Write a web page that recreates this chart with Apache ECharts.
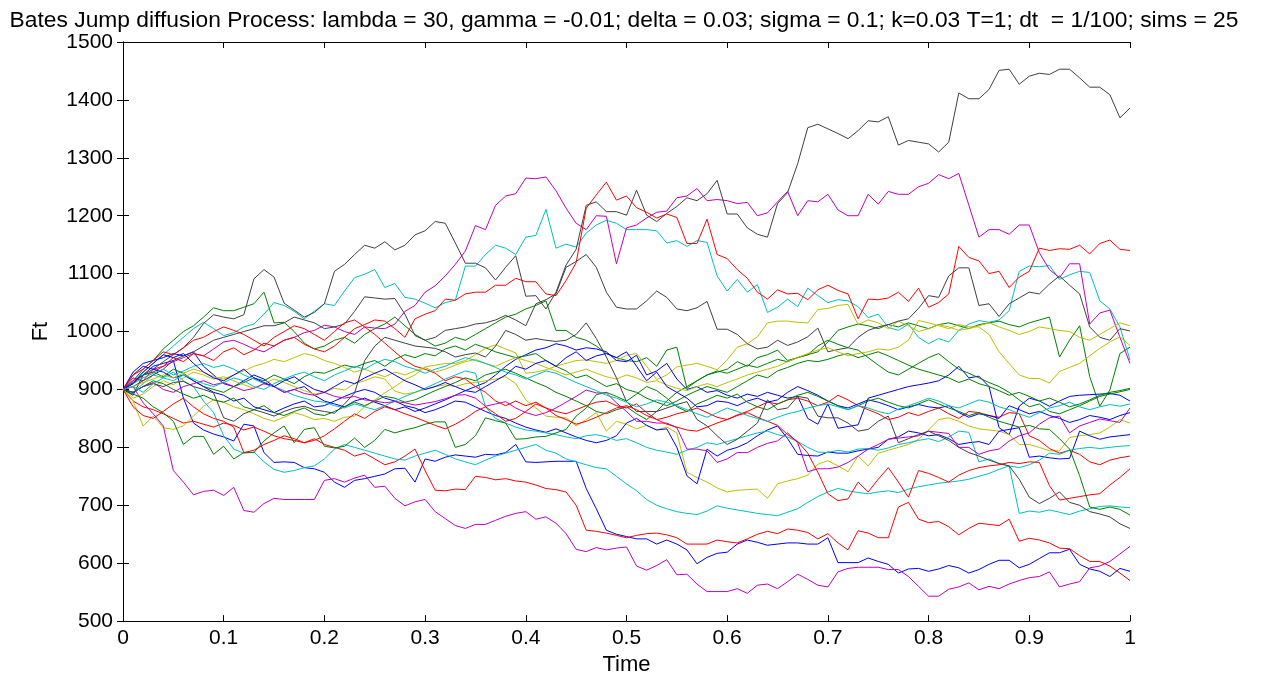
<!DOCTYPE html>
<html>
<head>
<meta charset="utf-8">
<title>Bates Jump diffusion Process</title>
<script src="https://cdn.jsdelivr.net/npm/echarts@6/dist/echarts.min.js"></script>
<style>
  html, body { margin: 0; padding: 0; background: #fff; overflow: hidden; }
  #chart { width: 1261px; height: 681px; }
</style>
</head>
<body>
<div id="chart"></div>
<script>
// Simulated Bates jump-diffusion price paths, one value per time step (dt = 1/100, T = 1).
const dt = 0.01;
const xTicks = [0, 0.1, 0.2, 0.3, 0.4, 0.5, 0.6, 0.7, 0.8, 0.9, 1];
const yTicks = [500, 600, 700, 800, 900, 1000, 1100, 1200, 1300, 1400, 1500];

const path01 = [900,890,925,940,945,950,885,842,830,823, 818,811,840,837,791,774,775,774,765,763, 757,740,731,743,746,750,754,763,764,740, 780,776,783,787,785,783,788,787,791,805, 775,774,775,776,776,776,729,694,657,650, 646,642,642,633,640,633,623,599,610,617, 619,633,640,636,631,633,635,635,633,633, 644,601,601,601,609,603,598,583,590,591, 586,590,596,592,583,589,598,605,605,592, 598,608,618,618,624,598,590,586,577,591,586];
const path02 = [900,915,935,950,970,985,1000,1010,1025,1041, 1036,1036,1042,1048,1068,1015,1016,1000,980,970, 975,985,990,980,995,1005,1013,1025,1010,995, 985,975,980,990,985,995,1005,1015,1025,1030, 1039,1045,1053,1002,1002,990,985,975,962,955, 950,948,955,940,968,973,902,915,925,930, 935,948,940,955,960,968,950,955,960,965, 982,1002,1008,1013,1010,1005,1012,1008,1015,1010, 1005,1012,1015,1010,1005,1012,1015,1018,1012,1008, 1015,1020,1025,956,985,1010,922,871,899,962,973];
const path03 = [900,880,870,865,858,850,842,845,840,835, 842,838,830,835,828,820,815,812,808,815, 805,800,795,785,790,780,770,775,785,797, 760,726,725,728,727,750,748,744,746,742, 740,735,729,727,723,700,657,655,652,648, 644,648,651,652,649,644,633,633,633,640, 637,635,642,650,655,651,659,657,653,642, 651,635,623,656,652,644,644,697,705,676, 670,672,663,649,660,669,667,665,676,638, 643,640,635,626,625,613,603,603,595,583,570];
const path04 = [900,915,930,945,960,975,990,1005,1016,1005, 993,998,1008,1013,1030,1050,1045,1035,1022,1035, 1048,1045,1070,1093,1099,1107,1076,1083,1059,1056, 1049,1041,1050,1054,1113,1113,1133,1149,1144,1133, 1163,1166,1211,1144,1151,1146,1170,1184,1192,1187, 1176,1176,1176,1174,1153,1157,1147,1157,1154,1096, 1070,1090,1068,1081,1033,1042,1056,1043,1075,1062, 1050,1055,1053,1043,1024,1030,1007,1002,1013,990, 979,988,982,1002,1013,1019,1016,1020,1036,1104, 1113,1112,1114,1090,1098,1104,1102,1053,1039,1008,951];
const path05 = [900,915,925,930,940,948,955,962,958,970, 982,985,978,970,965,975,985,990,998,1002, 1011,1008,1000,995,1008,1006,1005,1013,1035,1045, 1068,1079,1096,1116,1139,1183,1176,1218,1234,1238, 1265,1264,1267,1243,1213,1187,1176,1200,1199,1117, 1179,1184,1196,1206,1208,1231,1234,1247,1226,1228, 1226,1221,1223,1200,1205,1224,1242,1200,1226,1224, 1237,1210,1200,1200,1237,1220,1242,1237,1237,1250, 1256,1271,1264,1273,1218,1163,1176,1176,1168,1184, 1184,1136,1107,1093,1117,1117,1013,1032,1037,990,945];
const path06 = [900,880,837,854,834,831,837,854,871,882, 878,870,865,858,850,845,852,860,855,848, 850,845,852,854,870,882,894,905,917,925, 939,942,945,945,950,960,971,977,970,963, 928,930,934,940,945,950,951,948,945,950, 959,962,940,917,925,939,942,945,940,934, 951,973,979,991,1015,1018,1018,1016,1015,1038, 1040,1045,1047,1012,1020,1015,1005,1018,1010,1000, 1005,1012,1008,1002,1005,1010,1015,1008,1002,995, 1000,1008,1005,1002,1000,990,985,995,1005,1015,1010];
const path07 = [900,912,925,935,948,960,972,990,1014,1029, 1025,1022,1029,1091,1107,1094,1049,1037,1025,1033, 1048,1104,1116,1133,1149,1144,1155,1141,1149,1167, 1174,1190,1187,1153,1118,1118,1110,1089,1111,1131, 1061,1062,1039,1068,1115,1142,1218,1224,1207,1207, 1201,1244,1201,1190,1204,1216,1231,1226,1238,1261, 1203,1203,1179,1168,1163,1221,1240,1290,1352,1358, 1350,1342,1333,1347,1364,1362,1371,1322,1330,1327, 1324,1310,1327,1412,1402,1402,1418,1451,1453,1427, 1441,1446,1444,1453,1453,1438,1422,1422,1409,1369,1386];
const path08 = [900,930,945,950,955,962,958,965,940,925, 910,905,915,925,918,905,895,900,905,890, 880,875,870,880,885,878,872,865,870,862, 868,875,882,890,898,905,912,925,940,952, 960,968,972,979,975,968,972,970,965,950, 948,959,925,932,945,918,900,905,895,898, 890,885,892,888,895,890,885,888,850,840, 875,833,836,839,885,890,895,900,905,908, 911,915,925,940,920,923,905,834,822,871, 885,880,871,880,888,890,891,892,893,890,880];
const path09 = [900,910,925,930,922,935,928,915,905,900, 895,905,912,920,915,925,918,910,922,930, 928,935,942,938,945,950,940,952,960,955, 962,958,970,975,968,978,972,965,960,955, 958,962,950,940,932,920,925,915,905,910, 900,895,885,878,872,880,890,898,905,900, 895,905,915,925,920,932,938,945,950,948, 952,958,962,955,960,965,958,950,942,935, 930,925,920,912,918,910,905,898,890,895, 888,880,885,878,870,875,882,890,895,898,902];
const path10 = [900,920,915,935,940,955,948,962,958,950, 965,972,960,968,980,975,985,990,978,970, 965,975,990,1005,1012,1020,1018,1005,990,1022, 1030,1036,1056,1054,1065,1068,1068,1080,1080,1092, 1086,1086,1065,1062,1088,1119,1213,1236,1258,1227, 1234,1214,1206,1196,1203,1197,1152,1152,1194,1133, 1126,1107,1092,1068,1056,1072,1065,1066,1055,1072, 1080,1071,1065,1022,1056,1055,1058,1068,1052,1075, 1042,1050,1065,1147,1128,1122,1100,1104,1076,1094, 1104,1144,1140,1143,1142,1149,1134,1152,1158,1142,1140];
const path11 = [900,895,910,925,920,930,915,905,880,860, 820,797,790,792,775,762,757,760,765,768, 780,797,805,800,795,790,785,780,778,785, 790,795,788,780,775,770,778,785,790,795, 800,805,795,790,780,775,770,765,763,750, 737,725,710,700,694,689,686,684,690,699, 695,692,689,686,684,682,688,694,705,715, 723,729,725,722,720,723,725,722,728,732, 735,738,740,742,745,750,755,762,768,686, 690,688,692,688,684,690,694,698,699,697,696];
const path12 = [900,905,877,858,837,760,740,718,724,726, 717,731,691,688,703,712,710,710,710,710, 743,746,740,747,752,731,733,712,699,706, 710,689,677,665,660,667,667,674,681,686, 689,676,680,669,651,624,620,627,623,626, 628,595,588,596,606,580,581,564,551,551, 551,556,548,562,564,556,568,581,572,562, 559,585,591,593,593,593,589,589,577,560, 543,543,555,559,566,554,560,556,564,570, 575,577,585,559,564,568,592,595,603,616,629];
const path13 = [900,885,892,905,915,908,920,930,925,918, 922,915,908,902,910,918,912,905,898,892, 895,902,899,910,915,922,918,897,892,895, 900,905,908,905,910,912,915,918,922,910, 882,868,854,852,851,837,848,860,828,845, 840,832,838,830,835,825,757,748,740,730, 723,726,727,728,712,737,742,746,752,771, 777,768,758,785,768,790,795,800,805,814, 830,848,851,845,837,832,830,828,822,805, 805,800,794,794,817,820,822,825,835,848,842];
const path14 = [900,905,915,925,935,950,958,965,975,985, 990,995,1000,1005,1010,1010,1015,1025,1020,1015, 1005,1008,1013,1035,1060,1058,1056,1057,1030,993, 985,990,1002,1005,1008,1013,1015,1020,1028,1020, 1010,1048,1055,1065,1111,1121,1133,1111,1068,1042, 1039,1039,1053,1070,1059,1039,1036,1041,1052,1004, 1004,995,979,970,973,985,976,982,991,1006, 965,969,972,990,1002,1008,1012,1018,1022,1040, 1062,1059,1096,1110,1110,1045,1048,1026,1048,1058, 1068,1065,1082,1096,1080,1065,1008,990,985,1005,1001];
const path15 = [900,925,940,935,930,920,925,915,905,895, 890,880,885,870,865,860,868,875,880,870, 872,880,888,895,900,895,885,880,872,868, 860,865,872,880,878,870,862,855,850,842, 835,830,826,832,825,818,812,808,812,820, 842,850,838,830,832,800,751,737,797,785, 795,800,808,820,830,837,815,788,786,785, 792,790,790,794,797,800,814,818,828,825, 820,822,815,805,808,810,805,828,831,834, 783,785,782,780,781,828,820,814,818,820,822];
const path16 = [900,895,905,915,910,900,892,885,890,882, 878,885,870,865,872,860,855,862,868,858, 855,862,870,878,872,880,888,885,878,882, 890,898,905,912,920,915,925,930,935,928, 920,912,905,895,888,880,872,862,858,865, 870,858,848,862,880,895,905,915,925,932, 928,935,942,938,945,952,948,955,960,975, 985,978,972,968,955,942,930,925,935,945, 955,962,948,935,928,920,912,905,895,882, 870,875,862,858,865,872,880,888,892,896,900];
const path17 = [900,925,935,950,965,960,972,985,990,1000, 1008,1002,995,985,975,990,1000,1010,1005,995, 985,1000,1015,1020,1008,995,980,965,950,940, 935,928,915,922,918,905,895,880,872,880, 872,878,868,862,858,865,872,878,880,872, 868,875,860,848,852,858,862,868,860,852, 848,856,862,870,878,875,882,885,880,872, 878,890,882,872,865,858,848,852,860,855, 862,868,858,850,862,860,855,852,860,858, 820,812,798,790,795,788,775,770,778,782,785];
const path18 = [900,910,920,928,935,925,932,940,945,938, 942,935,925,918,910,905,898,890,885,880, 878,872,868,875,870,865,872,880,888,895, 902,910,918,925,932,928,870,850,842,835, 830,828,825,822,818,815,820,822,818,812, 815,808,800,795,792,788,795,800,808,805, 810,815,820,825,828,822,818,810,800,792, 791,795,792,797,798,795,799,805,808,812, 815,810,818,828,826,775,780,772,768,765, 770,778,790,788,795,798,800,798,800,802,803];
const path19 = [900,895,905,912,900,895,905,910,915,908, 912,905,898,902,910,905,895,900,893,890, 895,888,885,888,882,880,877,879,877,873, 876,879,884,890,891,885,871,875,879,868, 860,855,860,868,878,888,899,894,894,877, 862,845,845,842,842,834,797,797,794,774, 780,791,791,800,807,811,825,808,758,763, 763,766,774,785,797,805,814,816,818,820, 828,826,824,800,800,788,794,797,811,820, 825,840,851,854,825,837,843,849,846,843,868];
const path20 = [900,905,912,918,925,920,928,935,930,922, 918,925,932,940,945,952,948,955,962,958, 950,945,938,930,935,928,922,930,925,932, 938,930,935,942,948,952,945,940,948,955, 950,945,938,932,925,930,935,928,922,918, 925,920,912,915,908,902,898,905,910,905, 912,918,925,930,935,940,948,955,962,968, 972,965,958,962,965,970,968,973,985,1019, 1015,1010,1005,1012,1008,1008,995,965,945,925, 919,919,911,931,938,945,958,971,982,991,976];
const path21 = [900,895,905,910,905,912,914,905,900,894, 851,845,858,865,860,854,862,868,871,865, 862,859,875,894,950,975,990,985,980,975, 973,971,965,956,960,963,956,975,1002,995, 985,988,985,983,985,995,1015,988,956,920, 879,862,862,862,868,874,879,848,837,820, 805,814,828,842,882,865,868,888,885,854, 851,851,842,828,831,845,854,808,815,822, 828,820,812,800,791,785,778,772,768,745, 714,703,712,723,705,700,689,685,680,668,660];
const path22 = [900,910,930,945,960,955,962,945,930,920, 915,925,935,920,912,905,915,922,910,900, 895,905,915,910,920,928,935,925,915,908, 900,905,912,905,898,895,905,915,925,940, 935,945,950,940,955,965,950,958,962,955, 965,940,915,930,905,895,885,870,872,880, 878,872,880,885,878,882,895,905,898,890, 880,872,868,875,882,878,872,865,870,874, 870,868,872,860,852,858,855,850,872,865, 858,862,855,850,843,848,855,852,848,855,860];
const path23 = [900,892,885,870,860,845,805,819,819,788, 802,780,791,791,811,825,837,808,831,834, 802,799,802,816,800,812,831,825,830,834, 840,844,844,800,805,820,851,846,842,814, 815,818,819,825,831,854,868,891,895,888, 880,892,905,898,885,870,862,875,882,890, 885,892,878,870,865,875,882,890,895,888, 880,872,865,872,880,885,878,872,868,875, 882,875,868,862,855,860,852,845,840,835, 838,832,831,815,797,751,697,693,697,693,683];
const path24 = [900,870,855,850,862,875,885,870,858,850, 845,835,791,795,805,812,820,815,808,812, 820,832,845,858,850,862,870,865,858,852, 845,838,832,840,850,862,870,858,845,850, 862,875,868,855,848,840,845,852,860,868, 872,865,855,848,840,835,830,828,835,842, 848,855,860,852,845,838,822,810,790,757, 720,708,711,740,723,745,765,740,714,760, 755,748,740,752,760,765,768,770,774,772, 775,774,734,709,712,715,718,720,735,748,763];
const path25 = [900,905,895,910,920,915,925,918,910,905, 912,920,915,905,900,910,918,925,930,922, 915,925,932,940,935,945,952,948,940,935, 928,935,940,948,955,950,945,938,930,925, 918,925,932,928,920,912,905,898,890,885, 878,870,875,882,878,872,865,858,852,860, 868,862,855,850,845,852,858,862,868,872, 875,870,865,872,868,862,858,866,872,878, 885,880,872,868,875,882,878,870,865,858, 852,860,868,872,878,870,865,870,874,871,875];

// Line colours cycle blue, green, red, cyan, magenta, yellow, dark grey.
const lineColors = ['#0000ff', '#008000', '#ff0000', '#00bfbf', '#bf00bf', '#bfbf00', '#404040'];

const paths = [path01, path02, path03, path04, path05, path06, path07, path08, path09, path10,
  path11, path12, path13, path14, path15, path16, path17, path18, path19, path20,
  path21, path22, path23, path24, path25];

const FONT = '"Liberation Sans", Arial, Helvetica, sans-serif';

const series = paths.map((vals, i) => ({
  type: 'line',
  name: 'sim ' + (i + 1),
  data: vals.map((v, k) => [+(k * dt).toFixed(2), v]),
  showSymbol: false,
  symbol: 'none',
  lineStyle: { width: 1, color: lineColors[i % lineColors.length] },
  itemStyle: { color: lineColors[i % lineColors.length] },
  emphasis: { disabled: true },
  animation: false
}));

const fmtX = v => {
  const hit = xTicks.find(t => Math.abs(t - v) < 1e-9);
  return hit === undefined ? '' : String(hit);
};
const fmtY = v => (yTicks.includes(Math.round(v)) ? String(Math.round(v)) : '');

const axisLineStyle = { show: true, lineStyle: { color: '#000', width: 1 } };
const tickStyle = { show: true, inside: true, length: 6, lineStyle: { color: '#000', width: 1 } };

const chart = echarts.init(document.getElementById('chart'), null, { renderer: 'canvas' });
chart.setOption({
  animation: false,
  backgroundColor: '#fff',
  title: {
    text: 'Bates Jump diffusion Process: lambda = 30, gamma = -0.01; delta = 0.03; sigma = 0.1; k=0.03 T=1; dt  = 1/100; sims = 25',
    left: 619,
    textAlign: 'center',
    top: 4,
    textStyle: { fontFamily: FONT, fontSize: 22.8, fontWeight: 'normal', color: '#000' }
  },
  // Plot box: top edge at y = 42, bottom edge at y = 627.
  grid: { left: 123, right: 131, top: 42, bottom: 54, containLabel: false },
  xAxis: [
    {
      type: 'value', position: 'bottom', min: 0, max: 1, interval: 0.1,
      axisLine: axisLineStyle, axisTick: tickStyle, splitLine: { show: false },
      axisLabel: { formatter: fmtX, color: '#000', fontFamily: FONT, fontSize: 21, margin: 7 },
      name: 'Time', nameLocation: 'middle', nameGap: 32,
      nameTextStyle: { color: '#000', fontFamily: FONT, fontSize: 22 }
    },
    {
      type: 'value', position: 'top', min: 0, max: 1, interval: 0.1,
      axisLine: axisLineStyle, axisTick: tickStyle, splitLine: { show: false },
      axisLabel: { show: false }
    }
  ],
  yAxis: [
    {
      type: 'value', position: 'left', min: 500, max: 1500, interval: 100,
      axisLine: axisLineStyle, axisTick: tickStyle, splitLine: { show: false },
      axisLabel: { formatter: fmtY, color: '#000', fontFamily: FONT, fontSize: 21, margin: 10 },
      name: 'Ft', nameLocation: 'middle', nameGap: 71, nameRotate: 90,
      nameTextStyle: { color: '#000', fontFamily: FONT, fontSize: 22 }
    },
    {
      type: 'value', position: 'right', min: 500, max: 1500, interval: 100,
      axisLine: axisLineStyle, axisTick: tickStyle, splitLine: { show: false },
      axisLabel: { show: false }
    }
  ],
  series: series
});
</script>
</body>
</html>
